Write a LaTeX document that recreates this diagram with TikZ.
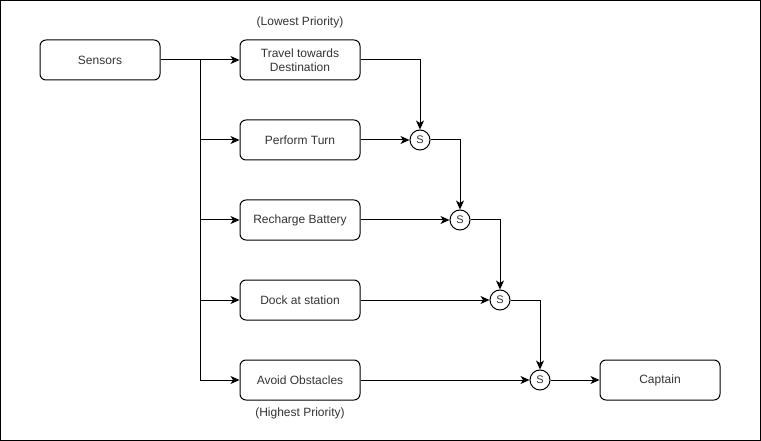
\documentclass[tikz,border=0pt]{standalone}
\usepackage{fontspec}
\setmainfont{Liberation Sans}
\usetikzlibrary{arrows.meta}
\begin{document}
\begin{tikzpicture}[x=1pt,y=-1pt,
  every node/.style={font=\fontsize{12}{14}\selectfont, text=black!80},
  blk/.style={draw, line width=1pt, rounded corners=6pt, minimum width=120pt, minimum height=40pt, align=center, inner sep=0pt, text=black!80},
  sum/.style={draw, line width=1pt, circle, minimum size=20pt, inner sep=0pt, font=\fontsize{11}{13}\selectfont},
  lbl/.style={inner sep=0pt},
  conn/.style={line width=1pt, -{Stealth[length=9pt,width=8pt,inset=2.5pt]}},
  wire/.style={line width=1pt}]
\useasboundingbox (0,0) rectangle (761,441);
\draw[line width=1pt] (0.5,0.5) rectangle (760.5,440.5);
\node[blk] (sensors) at (100,60) {Sensors};
\node[blk] (travel) at (300,60) {Travel towards\\Destination};
\node[blk] (turn) at (300,140) {Perform Turn};
\node[blk] (recharge) at (300,220) {Recharge Battery};
\node[blk] (dock) at (300,300) {Dock at station};
\node[blk] (avoid) at (300,380) {Avoid Obstacles};
\node[blk] (captain) at (660,380) {Captain};
\node[lbl] (low) at (300,22) {(Lowest Priority)};
\node[lbl] (high) at (300,413) {(Highest Priority)};
\node[sum] (s1) at (420,140) {S};
\node[sum] (s2) at (460,220) {S};
\node[sum] (s3) at (500,300) {S};
\node[sum] (s4) at (540,380) {S};
\coordinate (j) at (200,60);
\draw[wire] (sensors.east) -- (j) -- (200,380);
\draw[conn] (j) -- (travel.west);
\draw[conn] (200,140) -- (turn.west);
\draw[conn] (200,220) -- (recharge.west);
\draw[conn] (200,300) -- (dock.west);
\draw[conn] (200,380) -- (avoid.west);
\draw[conn] (travel.east) -| (s1.north);
\draw[conn] (turn.east) -- (s1.west);
\draw[conn] (s1.east) -| (s2.north);
\draw[conn] (recharge.east) -- (s2.west);
\draw[conn] (s2.east) -| (s3.north);
\draw[conn] (dock.east) -- (s3.west);
\draw[conn] (s3.east) -| (s4.north);
\draw[conn] (avoid.east) -- (s4.west);
\draw[conn] (s4.east) -- (captain.west);
\end{tikzpicture}
\end{document}
